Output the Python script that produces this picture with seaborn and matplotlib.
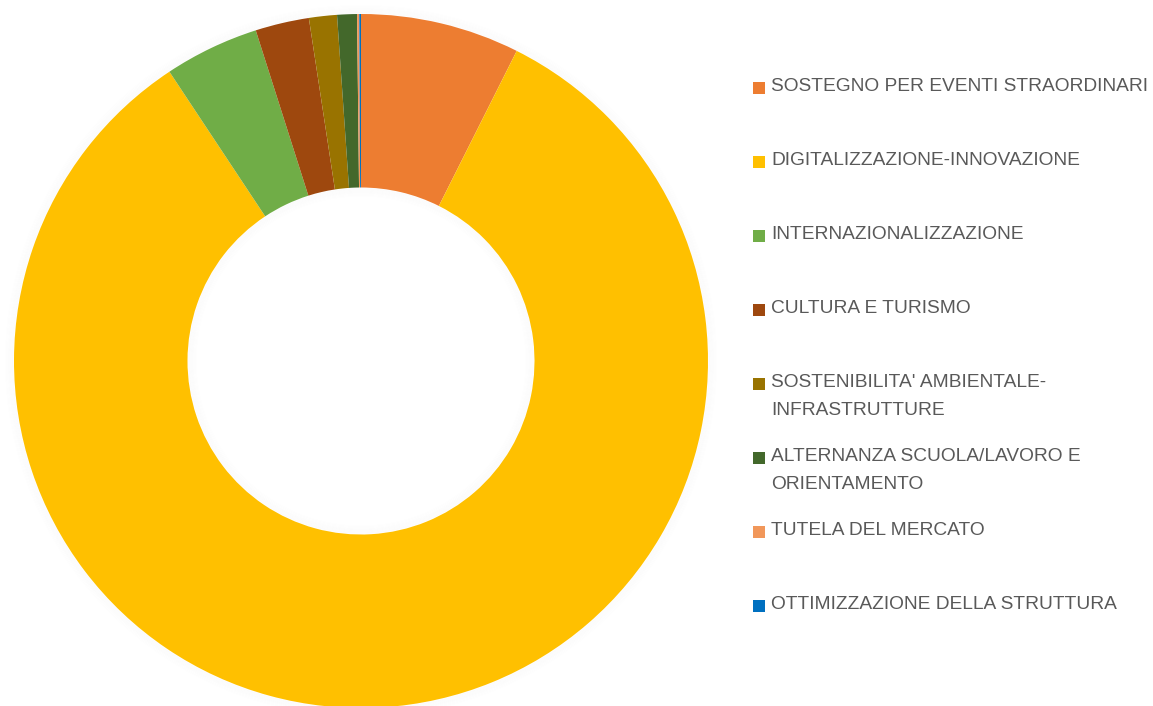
import matplotlib
matplotlib.use("Agg")
import matplotlib.pyplot as plt
import seaborn as sns
from matplotlib.patches import Rectangle, Circle

categories = [
    "SOSTEGNO PER EVENTI STRAORDINARI",
    "DIGITALIZZAZIONE-INNOVAZIONE",
    "INTERNAZIONALIZZAZIONE",
    "CULTURA E TURISMO",
    "SOSTENIBILITA' AMBIENTALE-\nINFRASTRUTTURE",
    "ALTERNANZA SCUOLA/LAVORO E\nORIENTAMENTO",
    "TUTELA DEL MERCATO",
    "OTTIMIZZAZIONE DELLA STRUTTURA",
]
values = [7.4, 83.2, 4.4, 2.5, 1.3, 0.92, 0.1, 0.08]
colors = ["#ED7D31", "#FFC000", "#70AD47", "#9E480E", "#997300", "#43682B", "#F1975A", "#0070C0"]

sns.set_theme(style="white")
plt.rcParams["font.family"] = ["Liberation Sans", "DejaVu Sans"]
palette = sns.color_palette(colors)

W, H = 1153, 706
fig = plt.figure(figsize=(W / 100, H / 100), dpi=100)
fig.patch.set_facecolor("white")

cx, cy, R = 361, 361, 347
ax = fig.add_axes([(cx - R) / W, (H - cy - R) / H, 2 * R / W, 2 * R / H])

# very soft shadow around the ring (decorative)
for k in range(1, 10):
    a = 0.012 * (1 - k / 10)
    ax.add_patch(Circle((0, 0), 1 + k * 0.003, facecolor="none",
                        edgecolor="#000000", alpha=a, linewidth=1.2,
                        clip_on=False, zorder=0))
    ax.add_patch(Circle((0, 0), 0.5 - k * 0.003, facecolor="none",
                        edgecolor="#000000", alpha=a, linewidth=1.2,
                        clip_on=False, zorder=0))

ax.pie(values, colors=palette, startangle=90, counterclock=False,
       radius=1.0, wedgeprops=dict(width=0.5, edgecolor="none", linewidth=0, zorder=2))
ax.set_xlim(-1, 1)
ax.set_ylim(-1, 1)
ax.set_aspect("auto")
ax.axis("off")

# legend drawn manually to match Excel layout
text_color = "#595959"
for i, (lab, col) in enumerate(zip(categories, palette)):
    yc = 88 + 74 * i  # pixel center of first line
    fig.patches.append(Rectangle((753 / W, (H - yc - 6) / H), 12 / W, 12 / H,
                                 transform=fig.transFigure, facecolor=col,
                                 edgecolor="none", figure=fig))
    fig.text(771 / W, (H - yc + 10) / H, lab, ha="left", va="top",
             fontsize=13.8, color=text_color, linespacing=1.85)

fig.savefig("out.png", dpi=100)
